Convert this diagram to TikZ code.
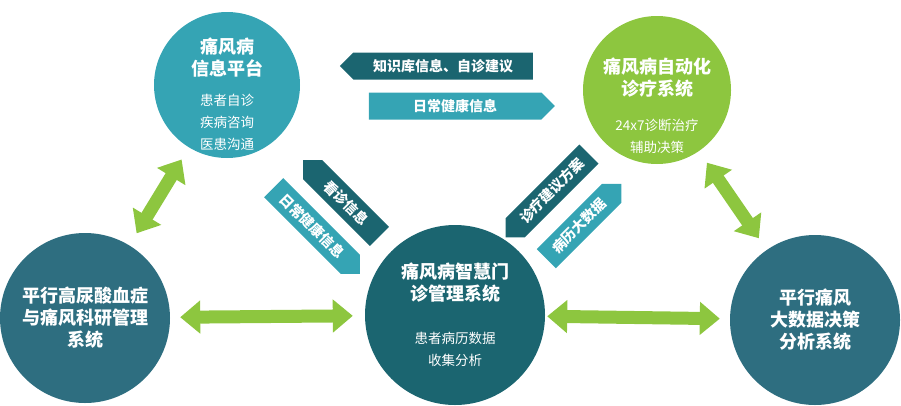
\documentclass[tikz,border=0pt]{standalone}
\usepackage{fontspec}
\setmainfont{Noto Sans CJK SC}
\usepackage{tikz}
\usetikzlibrary{shapes.arrows,arrows.meta}
\definecolor{gfteal}{RGB}{53,164,180}
\definecolor{gfdark}{RGB}{27,101,112}
\definecolor{gfslate}{RGB}{46,110,128}
\definecolor{gfgreen}{RGB}{141,198,63}
\tikzset{
  hub/.style={circle, draw=none, minimum size=#1, inner sep=0pt},
  title/.style={text=white, font=\bfseries\fontsize{18}{22}\selectfont, align=center},
  items/.style={text=white, font=\fontsize{13.5}{22}\selectfont, align=center},
  banner/.style={single arrow, single arrow head extend=0pt, single arrow tip angle=90,
    minimum width=27pt, inner sep=2pt, fill=#1, text=white,
    font=\bfseries\fontsize{14}{15}\selectfont},
  link/.style={draw=gfgreen, line width=13pt,
    {Triangle[width=32pt,length=20pt]}-{Triangle[width=32pt,length=20pt]}}
}
\begin{document}
\begin{tikzpicture}[x=1pt,y=-1pt]
\useasboundingbox (0,0) rectangle (901,405);
% circles
\node[hub=146pt, fill=gfteal] (info) at (227,85) {};
\node[hub=148pt, fill=gfgreen] (auto) at (657,90) {};
\node[hub=170pt, fill=gfslate] (res) at (85,318) {};
\node[hub=180pt, fill=gfdark] (clinic) at (455,315) {};
\node[hub=170pt, fill=gfslate] (data) at (815,320) {};

% texts
\node[title] (infot) at (227,58) {痛风病\\信息平台};
\node[items] (infoi) at (227,122) {患者自诊\\疾病咨询\\医患沟通};
\node[title] (autot) at (657,78) {痛风病自动化\\诊疗系统};
\node[items] (autoi) at (657,136) {24x7诊断治疗\\辅助决策};
\node[title] (rest) at (85,318) {平行高尿酸血症\\与痛风科研管理\\系统};
\node[title] (clinict) at (455,283) {痛风病智慧门\\诊管理系统};
\node[items] (clinici) at (455,349) {患者病历数据\\收集分析};
\node[title] (datat) at (815,320) {平行痛风\\大数据决策\\分析系统};

% banners
\node[banner=gfdark, minimum height=193pt, shape border rotate=180] (kb) at (443,66) {知识库信息、自诊建议};
\node[banner=gfteal, minimum height=186pt] (daily) at (455,106) {日常健康信息};
\node[banner=gfdark, minimum height=108pt, rotate=-45, shape border rotate=180] (visit) at (346,203) {看诊信息};
\node[banner=gfteal, minimum height=122pt, rotate=-45] (health) at (312,226) {日常健康信息};
\node[banner=gfdark, minimum height=118pt, rotate=45, shape border rotate=180] (plan) at (552,191) {诊疗建议方案};
\node[banner=gfteal, minimum height=106pt, rotate=45] (record) at (579,226) {病历大数据};

% links
\draw[link, shorten <=14pt, shorten >=14pt] (info) -- (res);
\draw[link, shorten <=10pt, shorten >=12pt] (res) -- (clinic);
\draw[link, shorten <=2pt, shorten >=10pt] (clinic) -- (data);
\draw[link, shorten <=14pt, shorten >=14pt] (auto) -- (data);
\end{tikzpicture}
\end{document}
